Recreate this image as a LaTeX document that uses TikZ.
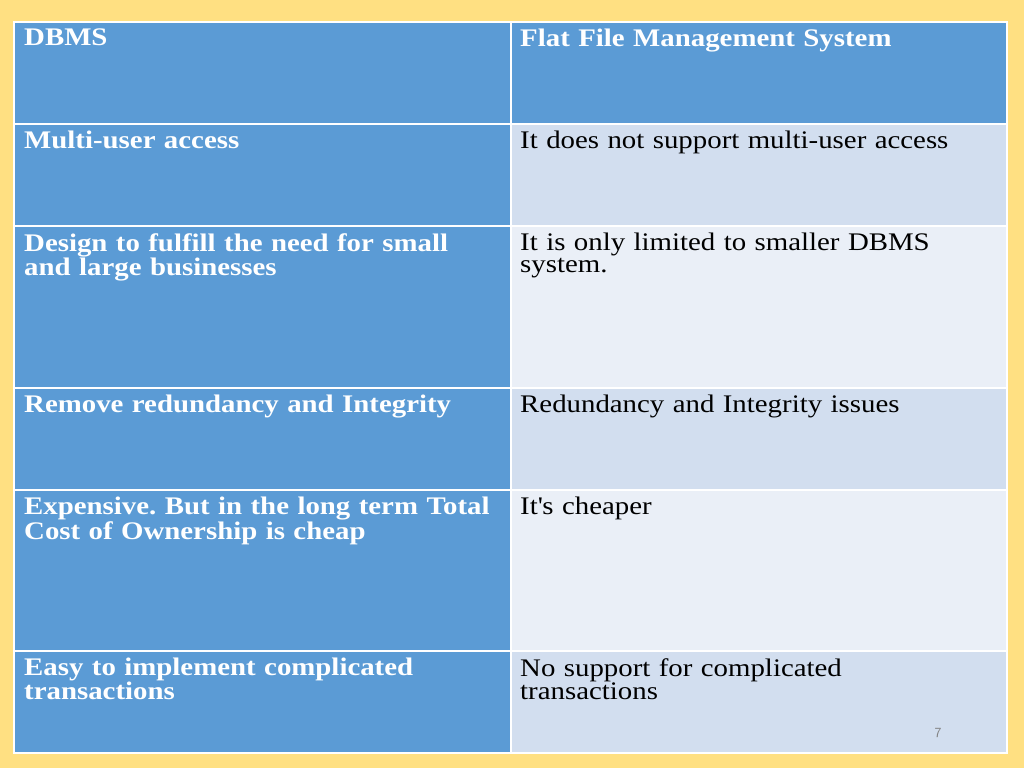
\documentclass[tikz,border=0pt]{standalone}
\usepackage{fontspec}
\setmainfont{Liberation Serif}[FakeStretch=1.14]
\definecolor{bgyellow}{RGB}{255,224,130}
\definecolor{cellblue}{RGB}{91,155,213}
\definecolor{lightA}{RGB}{210,222,239}
\definecolor{lightB}{RGB}{234,239,247}
\tikzset{
  cell/.style={draw=white, line width=1.5pt},
  lefttxt/.style={anchor=north west, text=white, font=\fontsize{25.3}{22}\selectfont\bfseries, text width=485pt, align=left, inner sep=0pt},
  righttxt/.style={anchor=north west, text=black, font=\fontsize{25.3}{22}\selectfont, text width=485pt, align=left, inner sep=0pt}
}
\begin{document}
\begin{tikzpicture}[x=1pt,y=-1pt]
\fill[bgyellow] (0,0) rectangle (1024,768);
\useasboundingbox (0,0) rectangle (1024,768);
% header
\filldraw[cell, fill=cellblue] (14,22) rectangle (511,124);
\filldraw[cell, fill=cellblue] (511,22) rectangle (1007,124);
% body rows
\foreach \ya/\yb/\rc in {124/226/lightA, 226/388/lightB, 388/490/lightA, 490/651/lightB, 651/753/lightA}{
  \filldraw[cell, fill=cellblue] (14,\ya) rectangle (511,\yb);
  \filldraw[cell, fill=\rc] (511,\ya) rectangle (1007,\yb);
}
\node[lefttxt] (h1) at (24,29) {DBMS};
\node[lefttxt] (h2) at (520,29) {Flat File Management System};
\node[lefttxt] (l1) at (24,131) {Multi-user access};
\node[righttxt] (r1) at (520,131) {It does not support multi-user access};
\node[lefttxt] (l2) at (24,233) {Design to fulfill the need for small\\and large businesses};
\node[righttxt] (r2) at (520,233) {It is only limited to smaller DBMS\\system.};
\node[lefttxt] (l3) at (24,395) {Remove redundancy and Integrity};
\node[righttxt] (r3) at (520,395) {Redundancy and Integrity issues};
\node[lefttxt] (l4) at (24,497) {Expensive.\ But in the long term Total\\Cost of Ownership is cheap};
\node[righttxt] (r4) at (520,497) {It\textquotesingle s cheaper};
\node[lefttxt] (l5) at (24,658) {Easy to implement complicated\\transactions};
\node[righttxt] (r5) at (520,658) {No support for complicated\\transactions};
\node[text=gray, font=\sffamily\fontsize{14}{14}\selectfont] (pg) at (938,733) {7};
\end{tikzpicture}
\end{document}
